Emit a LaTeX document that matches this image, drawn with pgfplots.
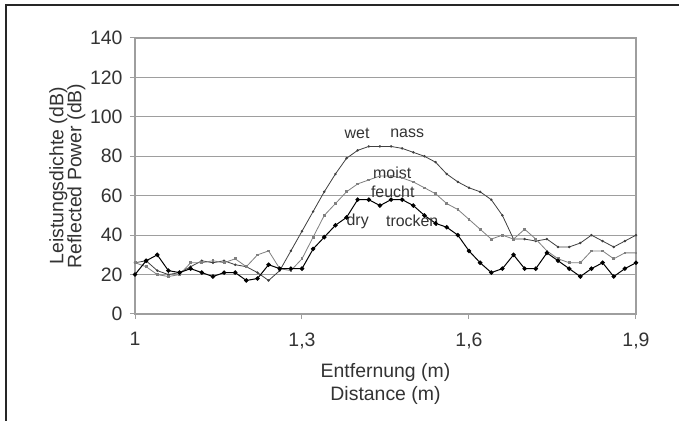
\documentclass[border=0pt]{standalone}
\usepackage{fontspec}
\setmainfont{Liberation Sans}
\usepackage{pgfplots}
\pgfplotsset{compat=1.18}
\usepackage{pgfplotstable}

% distance (m), reflected power (dB) for wet / moist / dry
\pgfplotstableread{
x     wet moist dry
1.00  26  26  20
1.02  27  24  27
1.04  22  20  30
1.06  20  19  22
1.08  21  20  21
1.10  24  26  23
1.12  27  26  21
1.14  26  27  19
1.16  27  26  21
1.18  25  28  21
1.20  24  24  17
1.22  21  30  18
1.24  17  32  25
1.26  22  23  23
1.28  32  22  23
1.30  42  28  23
1.32  52  39  33
1.34  62  50  39
1.36  71  56  45
1.38  79  62  49
1.40  83  66  58
1.42  85  68  58
1.44  85  70  55
1.46  85  70  58
1.48  84  69  58
1.50  82  67  55
1.52  80  64  50
1.54  77  61  46
1.56  71  56  44
1.58  67  53  40
1.60  64  48  32
1.62  62  43  26
1.64  58  38  21
1.66  50  40  23
1.68  38  38  30
1.70  38  43  23
1.72  37  38  23
1.74  38  32  31
1.76  34  28  27
1.78  34  26  23
1.80  36  26  19
1.82  40  32  23
1.84  37  32  26
1.86  34  28  19
1.88  37  31  23
1.90  40  31  26
}\data

\begin{document}
\begin{tikzpicture}
\useasboundingbox (0,0) rectangle (679bp,421bp);
\fill[white] (0,0) rectangle (679bp,421bp);
\draw[black!85, line width=1.3bp] (6bp,0) -- (6bp,416bp) -- (679bp,416bp);
\begin{axis}[
    at={(135bp,107bp)}, anchor=south west,
    scale only axis,
    width=501bp, height=276bp,
    xmin=1, xmax=1.9, ymin=0, ymax=140,
    xtick={1,1.3,1.6,1.9},
    xticklabels={1,{1,3},{1,6},{1,9}},
    ytick={0,20,...,140},
    /pgf/number format/assume math mode=true,
    ymajorgrids,
    major grid style={black!38, line width=1.2bp},
    axis line style={black!38, line width=1.2bp},
    tick style={black!38, line width=1bp},
    major tick length=5bp,
    tick align=outside,
    tick pos=left,
    ticklabel style={font=\fontsize{19.5}{22}\selectfont, text=black!80},
    xticklabel style={yshift=-10bp},
    yticklabel style={xshift=-4bp},
    label style={font=\fontsize{19.5}{22}\selectfont, text=black!80, align=center},
    xlabel={Entfernung (m)\\[1bp]Distance (m)},
    xlabel style={at={(axis description cs:0.5,-0.252)}, anchor=center},
    ylabel={Leistungsdichte (dB)\\[-4bp]Reflected Power (dB)},
    ylabel style={at={(axis description cs:-0.135,0.5)}, anchor=center},
    clip=false,
]
\addplot[black!75, line width=0.8bp, mark=*, mark size=0.8bp] table[x=x, y=wet] {\data};
\addplot[black!50, line width=0.8bp, mark=square*, mark size=0.9bp] table[x=x, y=moist] {\data};
\addplot[black, line width=1bp, mark=*, mark size=1.7bp] table[x=x, y=dry] {\data};
\begin{scope}[every node/.style={font=\fontsize{16}{18}\selectfont, text=black!80}]
\node at (axis cs:1.399,91.8) {wet};
\node at (axis cs:1.489,91.8) {nass};
\node at (axis cs:1.462,71.5) {moist};
\node at (axis cs:1.463,61.9) {feucht};
\node at (axis cs:1.400,47.2) {dry};
\node at (axis cs:1.498,47.2) {trocken};
\end{scope}
\end{axis}
\end{tikzpicture}
\end{document}
